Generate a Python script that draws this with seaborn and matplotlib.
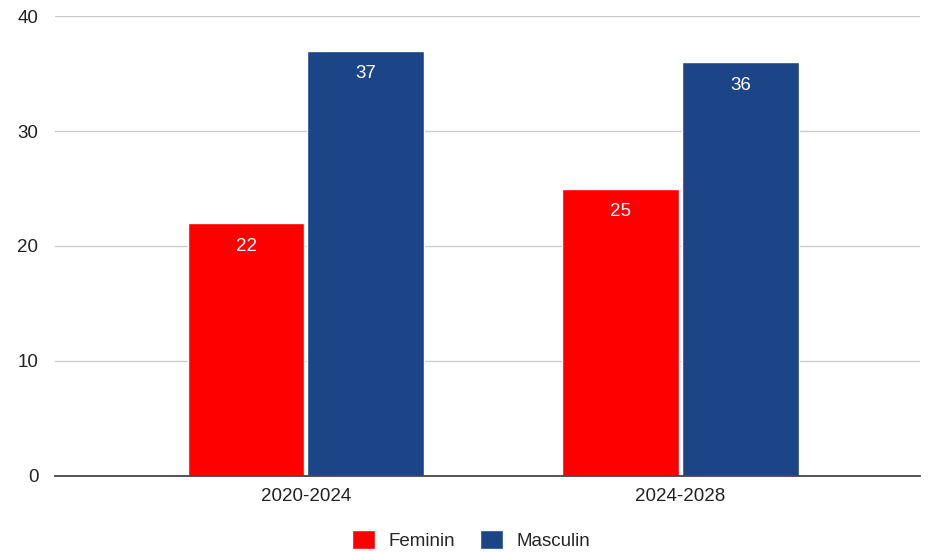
import pandas as pd
import numpy as np
import seaborn as sns
import matplotlib.pyplot as plt

periods = ["2020-2024", "2024-2028"]
feminin = [22, 25]
masculin = [37, 36]
series = ["Feminin", "Masculin"]
colors = ["#ff0000", "#1c4587"]

df = pd.DataFrame({
    "period": periods * 2,
    "value": feminin + masculin,
    "sex": [series[0]] * len(periods) + [series[1]] * len(periods),
})

sns.set_style("white")
plt.rcParams['font.family'] = ['Liberation Sans', 'DejaVu Sans']

fig = plt.figure(figsize=(9.37, 5.52), dpi=100)
ax = fig.add_axes([0.0587, 0.1377, 0.9233, 0.8333])

sns.barplot(data=df, x="period", y="value", hue="sex", palette=colors,
            width=0.64, gap=0.025, ax=ax, legend=True, saturation=1)

for c in ax.containers:
    labels = [f"{v:g}" for v in c.datavalues]
    ax.bar_label(c, labels=labels, label_type="edge", padding=-23,
                 color="white", fontsize=13.5)

ax.set_ylim(0, 40)
ax.set_yticks([0, 10, 20, 30, 40])
ax.set_xlim(-0.67, 1.64)
ax.yaxis.grid(True, color="#cccccc", linewidth=1)
ax.set_axisbelow(True)
ax.set_xlabel("")
ax.set_ylabel("")
for s in ["top", "right", "left"]:
    ax.spines[s].set_visible(False)
ax.spines["bottom"].set_color("#444444")
ax.spines["bottom"].set_linewidth(1.3)
ax.tick_params(axis="both", length=0, labelsize=13.5, colors="#222222")
ax.tick_params(axis="y", pad=12)
ax.tick_params(axis="x", pad=9)

ax.legend(loc="upper center", bbox_to_anchor=(0.481, -0.08), ncol=2,
          frameon=False, fontsize=13.5, handlelength=1.2, handleheight=1.2,
          columnspacing=1.37, handletextpad=0.7)

fig.savefig("out.png", dpi=100)
